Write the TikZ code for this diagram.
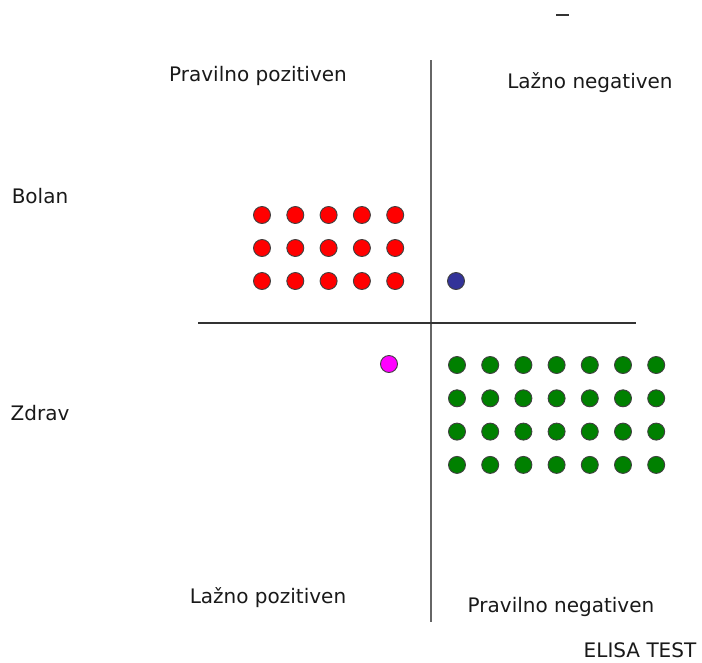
\documentclass[tikz,border=0pt]{standalone}
\usepackage{fontspec}
\setmainfont{DejaVu Sans}
\begin{document}
\begin{tikzpicture}[x=1pt,y=-1pt,
  lbl/.style={font=\fontsize{20}{23}\selectfont, inner sep=0pt, text=black!90},
  dot/.style={circle, minimum size=17pt, inner sep=0pt, draw=black!75, line width=0.9pt},
  axis/.style={draw=black!60, line width=1.5pt}]
\useasboundingbox (0,0) rectangle (702,662);
% axes
\coordinate (vt) at (431,60);
\coordinate (vb) at (431,622);
\coordinate (hl) at (198,323);
\coordinate (hr) at (636,323);
\draw[axis] (vt) -- (vb);
\draw[axis, draw=black!80, line width=1.1pt] (hl) -- (hr);
% small dash at the top
\coordinate (d1) at (556,15);
\coordinate (d2) at (569,15);
\draw[black!80, line width=1.1pt] (d1) -- (d2);
% labels
\node[lbl] (pp) at (258,76) {Pravilno pozitiven};
\node[lbl] (ln) at (590,83) {Lažno negativen};
\node[lbl] (bolan) at (40,196) {Bolan};
\node[lbl] (zdrav) at (40,413) {Zdrav};
\node[lbl] (lp) at (268,598) {Lažno pozitiven};
\node[lbl] (pn) at (561,607) {Pravilno negativen};
\node[lbl] (elisa) at (640,650) {ELISA TEST};
% true positives
\foreach \r in {0,1,2}
  \foreach \c in {0,...,4}
    \node[dot, fill=red] (tp-\r-\c) at ({262+33.3*\c},{215+33*\r}) {};
% false negative
\node[dot, fill={rgb,255:red,51;green,51;blue,153}] (fn) at (456,281) {};
% false positive
\node[dot, fill={rgb,255:red,255;green,0;blue,255}] (fp) at (389,364) {};
% true negatives
\foreach \r in {0,...,3}
  \foreach \c in {0,...,6}
    \node[dot, fill={rgb,255:red,0;green,128;blue,0}] (tn-\r-\c) at ({457+33.2*\c},{365+33.3*\r}) {};
\end{tikzpicture}
\end{document}
